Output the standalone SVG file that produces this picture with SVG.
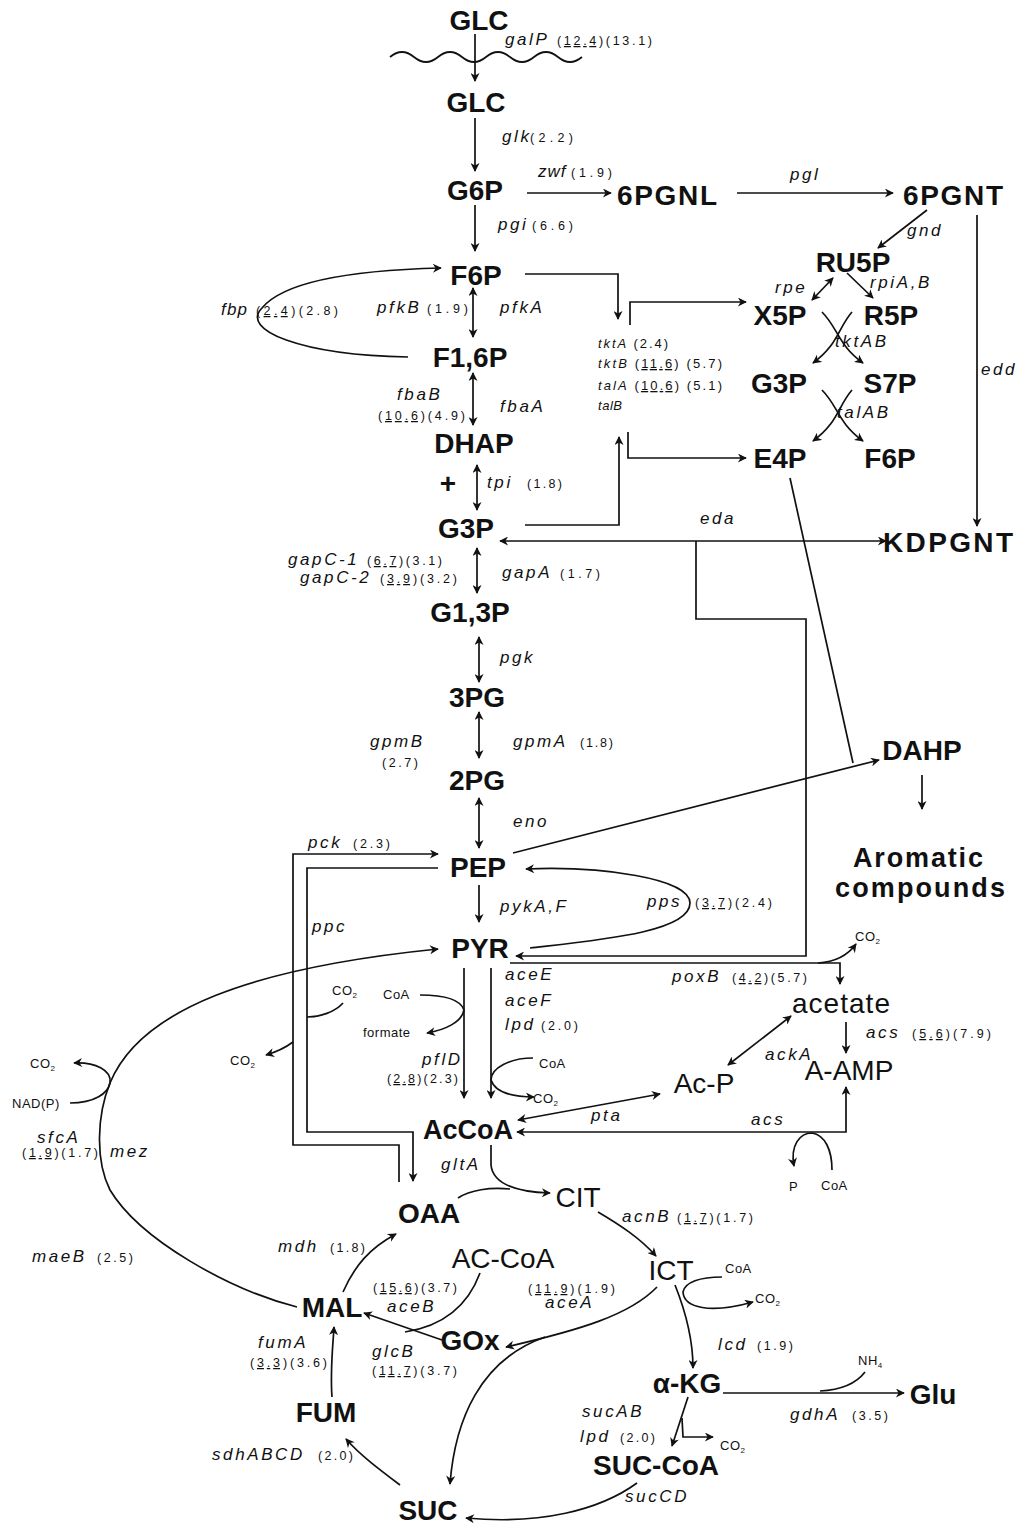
<svg xmlns="http://www.w3.org/2000/svg" width="1023" height="1532" viewBox="0 0 1023 1532">
<defs>
<marker id="a" viewBox="0 0 10 10" refX="9" refY="5" markerUnits="userSpaceOnUse" markerWidth="10" markerHeight="9" orient="auto-start-reverse">
<path d="M0,0 L10,5 L0,10 L3,5 z" fill="#111"/>
</marker>
</defs>
<style>
.b{font-family:"Liberation Sans",Arial,sans-serif;font-weight:bold;font-size:28px;fill:#111;text-anchor:middle}
.r{font-family:"Liberation Sans",Arial,sans-serif;font-size:28px;fill:#111;text-anchor:middle}
.g{font-family:"Liberation Sans",Arial,sans-serif;font-style:italic;font-size:17px;letter-spacing:2.6px;fill:#111}
.n{font-family:"Liberation Sans",Arial,sans-serif;font-size:12.5px;fill:#111}
.t{font-family:"Liberation Sans",Arial,sans-serif;font-size:13px;fill:#111}
.s{font-family:"Liberation Sans",Arial,sans-serif;font-size:13px;letter-spacing:0.5px;fill:#111}
.u{text-decoration:underline}
.c path{fill:none;stroke:#111;stroke-width:1.7}
.e{marker-end:url(#a)}
.d{marker-start:url(#a);marker-end:url(#a)}
</style>
<rect width="1023" height="1532" fill="#fff"/>

<g id="connectors" class="c">
<path d="M390,57 Q402,47 414,57 T438,57 T462,57 T486,57 T510,57 T534,57 T558,57 T582,57"/>
<path class="e" d="M475,34 L475,81"/>
<path class="e" d="M475,118 L475,171"/>
<path class="e" d="M475,205 L475,251"/>
<path class="e" d="M527,193 L611,193"/>
<path class="e" d="M737,193 L893,193"/>
<path class="e" d="M927,210 L878,248"/>
<path class="d" d="M833,278 L812,300"/>
<path class="e" d="M847,273 L873,298"/>
<path class="e" d="M822,312 C838,328 838,345 863,363"/>
<path class="e" d="M852,312 C838,328 838,345 813,363"/>
<path class="e" d="M822,390 C838,406 838,423 863,441"/>
<path class="e" d="M852,390 C838,406 838,423 813,441"/>
<path class="e" d="M977,215 L977,526"/>
<path class="e" d="M525,274 L618,274 L618,319"/>
<path class="e" d="M630,325 L630,302 L746,302"/>
<path class="e" d="M628,432 L628,458 L746,458"/>
<path class="e" d="M525,525 L619,525 L619,437"/>
<path class="d" d="M473,288 L473,337"/>
<path class="e" d="M408,357 C300,355 240,330 262,308 C285,280 360,270 441,268"/>
<path class="d" d="M473,373 L473,425"/>
<path class="d" d="M477,465 L477,510"/>
<path class="d" d="M500,541 L886,541"/>
<path class="e" d="M696,541 L696,619 L806,619 L806,956 L516,956"/>
<path class="d" d="M477,548 L477,593"/>
<path class="d" d="M479,637 L479,682"/>
<path class="d" d="M479,712 L479,758"/>
<path class="d" d="M479,798 L479,848"/>
<path class="e" d="M479,885 L479,922"/>
<path class="e" d="M513,853 L879,760"/>
<path d="M790,478 L853,763"/>
<path class="e" d="M922,775 L922,809"/>
<path d="M530,948 C600,940 690,932 690,903"/>
<path class="e" d="M690,903 C690,878 600,866 526,869"/>
<path class="e" d="M399,1182 L399,1145 L293,1145 L293,854 L438,854"/>
<path class="e" d="M438,868 L307,868 L307,1132 L413,1132 L413,1181"/>
<path d="M307,1017 C320,1017 335,1012 343,1003"/>
<path class="e" d="M293,1042 C285,1048 276,1052 266,1055"/>
<path class="e" d="M297,1307 C230,1290 140,1240 110,1190 C95,1160 97,1115 110,1083 C140,1010 250,968 438,949"/>
<path class="e" d="M70,1103 C95,1103 108,1093 110,1083 C112,1070 95,1062 74,1063"/>
<path class="e" d="M464,968 L464,1098"/>
<path class="e" d="M491,968 L491,1098"/>
<path class="e" d="M420,995 C440,995 460,998 464,1010 C462,1022 445,1030 427,1033"/>
<path class="e" d="M533,1058 C510,1058 491,1068 491,1080 C495,1092 512,1097 534,1097"/>
<path class="e" d="M510,963 L840,963 L840,984"/>
<path class="e" d="M818,963 C835,962 848,955 856,944"/>
<path class="e" d="M846,1022 L846,1053"/>
<path class="d" d="M846,1087 L846,1132 L517,1132"/>
<path class="e" d="M832,1170 C832,1150 825,1135 812,1133 C800,1133 790,1145 794,1166"/>
<path class="d" d="M518,1120 L660,1094"/>
<path class="d" d="M728,1065 L791,1016"/>
<path class="e" d="M491,1145 L491,1165 C493,1185 520,1192 550,1193"/>
<path d="M458,1198 C470,1190 490,1187 510,1189"/>
<path class="e" d="M598,1212 C620,1225 640,1238 656,1256"/>
<path class="e" d="M675,1285 C685,1310 693,1340 693,1368"/>
<path class="e" d="M722,1277 C700,1277 685,1282 683,1292 C684,1308 710,1314 753,1302"/>
<path class="e" d="M657,1287 C630,1315 580,1330 506,1347"/>
<path class="e" d="M545,1337 C480,1360 455,1420 450,1484"/>
<path d="M480,1273 C470,1300 450,1325 405,1332"/>
<path class="e" d="M442,1340 L364,1313"/>
<path class="e" d="M343,1292 C355,1265 370,1248 396,1234"/>
<path class="e" d="M332,1397 C330,1370 333,1345 334,1327"/>
<path class="e" d="M400,1485 C380,1470 360,1455 346,1439"/>
<path class="e" d="M637,1483 C600,1510 540,1525 466,1518"/>
<path class="e" d="M688,1397 L672,1446"/>
<path class="e" d="M682,1418 L683,1437 L713,1437"/>
<path class="e" d="M723,1393 L904,1393"/>
<path d="M865,1372 C855,1385 840,1390 820,1391"/>
</g>

<g id="nodes">
<g id="GLC_out"><text class="b" x="479" y="30">GLC</text></g>
<g id="GLC_in"><text class="b" x="476" y="112">GLC</text></g>
<g id="G6P"><text class="b" x="475" y="200">G6P</text></g>
<g id="n6PGNL"><text class="b" x="667" y="205" textLength="100">6PGNL</text></g>
<g id="n6PGNT"><text class="b" x="953" y="205" textLength="100">6PGNT</text></g>
<g id="RU5P"><text class="b" x="853" y="272">RU5P</text></g>
<g id="X5P"><text class="b" x="780" y="325">X5P</text></g>
<g id="R5P"><text class="b" x="891" y="325">R5P</text></g>
<g id="G3P_ppp"><text class="b" x="779" y="393">G3P</text></g>
<g id="S7P"><text class="b" x="890" y="393">S7P</text></g>
<g id="E4P"><text class="b" x="780" y="468">E4P</text></g>
<g id="F6P_ppp"><text class="b" x="890" y="468">F6P</text></g>
<g id="F6P"><text class="b" x="476" y="285">F6P</text></g>
<g id="F16P"><text class="b" x="470" y="367">F1,6P</text></g>
<g id="DHAP"><text class="b" x="474" y="453">DHAP</text></g>
<g id="plus"><text class="b" x="448" y="493">+</text></g>
<g id="G3P"><text class="b" x="466" y="538">G3P</text></g>
<g id="KDPGNT"><text class="b" x="948" y="552" textLength="130">KDPGNT</text></g>
<g id="G13P"><text class="b" x="470" y="622">G1,3P</text></g>
<g id="PG3"><text class="b" x="477" y="707">3PG</text></g>
<g id="PG2"><text class="b" x="477" y="790">2PG</text></g>
<g id="PEP"><text class="b" x="478" y="877">PEP</text></g>
<g id="PYR"><text class="b" x="480" y="958">PYR</text></g>
<g id="DAHP"><text class="b" x="922" y="760">DAHP</text></g>
<g id="aromatic"><text class="b" x="918" y="867" style="font-size:27px" textLength="130">Aromatic</text><text class="b" x="920" y="897" style="font-size:27px" textLength="170">compounds</text></g>
<g id="acetate"><text class="r" x="841" y="1013" textLength="98">acetate</text></g>
<g id="AAMP"><text class="r" x="849" y="1080">A-AMP</text></g>
<g id="AcP"><text class="r" x="704" y="1093">Ac-P</text></g>
<g id="AcCoA"><text class="b" x="468" y="1139" style="font-size:27px">AcCoA</text></g>
<g id="CIT"><text class="r" x="578" y="1207">CIT</text></g>
<g id="OAA"><text class="b" x="429" y="1223">OAA</text></g>
<g id="ACCoA2"><text class="r" x="503" y="1268">AC-CoA</text></g>
<g id="ICT"><text class="r" x="671" y="1280">ICT</text></g>
<g id="MAL"><text class="b" x="332" y="1317">MAL</text></g>
<g id="GOx"><text class="b" x="470" y="1350">GOx</text></g>
<g id="aKG"><text class="b" x="687" y="1393">α-KG</text></g>
<g id="Glu"><text class="b" x="933" y="1404">Glu</text></g>
<g id="FUM"><text class="b" x="326" y="1422">FUM</text></g>
<g id="SUCCoA"><text class="b" x="656" y="1475">SUC-CoA</text></g>
<g id="SUC"><text class="b" x="428" y="1520">SUC</text></g>
</g>

<g id="labels">
<text class="g" x="505" y="45">galP</text>
<text class="n" x="557" y="45" textLength="95">(<tspan class="u">12.4</tspan>)(13.1)</text>
<text class="g" x="502" y="142">glk</text>
<text class="n" x="530" y="142" textLength="43">(2.2)</text>
<text class="g" x="538" y="177" style="letter-spacing:1px">zwf</text>
<text class="n" x="571" y="177" textLength="41">(1.9)</text>
<text class="g" x="498" y="230">pgi</text>
<text class="n" x="532" y="230" textLength="41">(6.6)</text>
<text class="g" x="790" y="180">pgl</text>
<text class="g" x="907" y="236">gnd</text>
<text class="g" x="775" y="293">rpe</text>
<text class="g" x="870" y="288">rpiA,B</text>
<text class="g" x="835" y="347">tktAB</text>
<text class="g" x="837" y="418">talAB</text>
<text class="g" x="981" y="375">edd</text>
<text class="t" x="598" y="348" textLength="70"><tspan font-style="italic">tktA</tspan> (2.4)</text>
<text class="t" x="598" y="368" textLength="124"><tspan font-style="italic">tktB</tspan> (<tspan class="u">11.6</tspan>) (5.7)</text>
<text class="t" x="598" y="390" textLength="124"><tspan font-style="italic">talA</tspan> (<tspan class="u">10.6</tspan>) (5.1)</text>
<text class="t" x="598" y="410" font-style="italic" textLength="24">talB</text>
<text class="g" x="221" y="315" style="letter-spacing:1.2px">fbp</text>
<text class="n" x="256" y="315" textLength="82">(<tspan class="u">2.4</tspan>)(2.8)</text>
<text class="g" x="377" y="313">pfkB</text>
<text class="n" x="427" y="313" textLength="41">(1.9)</text>
<text class="g" x="500" y="313">pfkA</text>
<text class="g" x="397" y="400">fbaB</text>
<text class="n" x="378" y="420" textLength="87">(<tspan class="u">10.6</tspan>)(4.9)</text>
<text class="g" x="500" y="412">fbaA</text>
<text class="g" x="487" y="488">tpi</text>
<text class="n" x="527" y="488" textLength="35">(1.8)</text>
<text class="g" x="700" y="524">eda</text>
<text class="g" x="288" y="565">gapC-1</text>
<text class="n" x="367" y="565" textLength="75">(<tspan class="u">6.7</tspan>)(3.1)</text>
<text class="g" x="300" y="583">gapC-2</text>
<text class="n" x="380" y="583" textLength="77">(<tspan class="u">3.9</tspan>)(3.2)</text>
<text class="g" x="502" y="578">gapA</text>
<text class="n" x="560" y="578" textLength="40">(1.7)</text>
<text class="g" x="500" y="663">pgk</text>
<text class="g" x="370" y="747">gpmB</text>
<text class="n" x="382" y="767" textLength="36">(2.7)</text>
<text class="g" x="513" y="747">gpmA</text>
<text class="n" x="580" y="747" textLength="33">(1.8)</text>
<text class="g" x="513" y="827">eno</text>
<text class="g" x="308" y="848">pck</text>
<text class="n" x="353" y="848" textLength="37">(2.3)</text>
<text class="g" x="500" y="912">pykA,F</text>
<text class="g" x="647" y="907">pps</text>
<text class="n" x="695" y="907" textLength="77">(<tspan class="u">3.7</tspan>)(2.4)</text>
<text class="g" x="312" y="932">ppc</text>
<text class="g" x="505" y="980">aceE</text>
<text class="g" x="505" y="1006">aceF</text>
<text class="g" x="505" y="1030">lpd</text>
<text class="n" x="541" y="1030" textLength="37">(2.0)</text>
<text class="g" x="422" y="1065">pflD</text>
<text class="n" x="387" y="1083" textLength="71">(<tspan class="u">2.8</tspan>)(2.3)</text>
<text class="g" x="672" y="982">poxB</text>
<text class="n" x="732" y="982" textLength="75">(<tspan class="u">4.2</tspan>)(5.7)</text>
<text class="g" x="866" y="1038">acs</text>
<text class="n" x="912" y="1038" textLength="79">(<tspan class="u">5.6</tspan>)(7.9)</text>
<text class="g" x="765" y="1060">ackA</text>
<text class="g" x="591" y="1121">pta</text>
<text class="g" x="751" y="1125">acs</text>
<text class="g" x="37" y="1143">sfcA</text>
<text class="n" x="22" y="1157" textLength="76">(<tspan class="u">1.9</tspan>)(1.7)</text>
<text class="g" x="110" y="1157">mez</text>
<text class="g" x="32" y="1262">maeB</text>
<text class="n" x="97" y="1262" textLength="36">(2.5)</text>
<text class="g" x="278" y="1252">mdh</text>
<text class="n" x="330" y="1252" textLength="35">(1.8)</text>
<text class="g" x="441" y="1170">gltA</text>
<text class="g" x="622" y="1222">acnB</text>
<text class="n" x="677" y="1222" textLength="76">(<tspan class="u">1.7</tspan>)(1.7)</text>
<text class="n" x="373" y="1292" textLength="84">(<tspan class="u">15.6</tspan>)(3.7)</text>
<text class="g" x="387" y="1312">aceB</text>
<text class="n" x="528" y="1293" textLength="87">(<tspan class="u">11.9</tspan>)(1.9)</text>
<text class="g" x="545" y="1308">aceA</text>
<text class="g" x="372" y="1357">glcB</text>
<text class="n" x="372" y="1375" textLength="85">(<tspan class="u">11.7</tspan>)(3.7)</text>
<text class="g" x="258" y="1348">fumA</text>
<text class="n" x="250" y="1367" textLength="77">(<tspan class="u">3.3</tspan>)(3.6)</text>
<text class="g" x="718" y="1350">lcd</text>
<text class="n" x="757" y="1350" textLength="36">(1.9)</text>
<text class="g" x="790" y="1420">gdhA</text>
<text class="n" x="852" y="1420" textLength="36">(3.5)</text>
<text class="g" x="582" y="1417">sucAB</text>
<text class="g" x="580" y="1442">lpd</text>
<text class="n" x="620" y="1442" textLength="35">(2.0)</text>
<text class="g" x="212" y="1460">sdhABCD</text>
<text class="n" x="318" y="1460" textLength="35">(2.0)</text>
<text class="g" x="625" y="1502">sucCD</text>

<text class="s" x="332" y="995">CO<tspan font-size="8" dy="3">2</tspan></text>
<text class="s" x="383" y="999">CoA</text>
<text class="s" x="363" y="1037">formate</text>
<text class="s" x="230" y="1065">CO<tspan font-size="8" dy="3">2</tspan></text>
<text class="s" x="30" y="1068">CO<tspan font-size="8" dy="3">2</tspan></text>
<text class="s" x="12" y="1108">NAD(P)</text>
<text class="s" x="539" y="1068">CoA</text>
<text class="s" x="533" y="1103">CO<tspan font-size="8" dy="3">2</tspan></text>
<text class="s" x="855" y="941">CO<tspan font-size="8" dy="3">2</tspan></text>
<text class="s" x="789" y="1191">P</text>
<text class="s" x="821" y="1190">CoA</text>
<text class="s" x="725" y="1273">CoA</text>
<text class="s" x="755" y="1303">CO<tspan font-size="8" dy="3">2</tspan></text>
<text class="s" x="858" y="1365">NH<tspan font-size="8" dy="3">4</tspan></text>
<text class="s" x="720" y="1450">CO<tspan font-size="8" dy="3">2</tspan></text>
</g>
</svg>
